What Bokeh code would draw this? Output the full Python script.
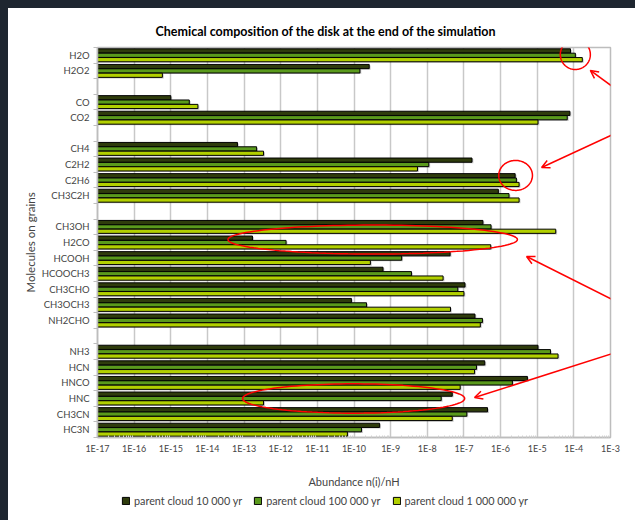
import numpy as np
from bokeh.plotting import figure
from bokeh.layouts import column
from bokeh.models import (Range1d, FixedTicker, CustomJSTickFormatter, Legend, LegendItem,
                          Arrow, OpenHead, PolyAnnotation)
from bokeh.embed import file_html
from bokeh.resources import INLINE

# ---------------- data ----------------
slots = ["H2O", "H2O2", "", "CO", "CO2", "", "CH4", "C2H2", "C2H6", "CH3C2H", "",
         "CH3OH", "H2CO", "HCOOH", "HCOOCH3", "CH3CHO", "CH3OCH3", "NH2CHO", "",
         "NH3", "HCN", "HNCO", "HNC", "CH3CN", "HC3N"]
molecules = ["H2O", "H2O2", "CO", "CO2", "CH4", "C2H2", "C2H6", "CH3C2H",
             "CH3OH", "H2CO", "HCOOH", "HCOOCH3", "CH3CHO", "CH3OCH3", "NH2CHO",
             "NH3", "HCN", "HNCO", "HNC", "CH3CN", "HC3N"]
cloud_1e4 = [8.1e-5, 2.6e-10, 1.0e-15, 7.8e-5, 6.6e-14, 1.66e-7, 2.5e-6, 8.7e-7,
             3.3e-7, 1.7e-13, 4.2e-8, 6.2e-10, 1.07e-7, 8.5e-11, 2.0e-7,
             1.05e-5, 3.7e-7, 5.4e-6, 4.8e-8, 4.4e-7, 5.0e-10]
cloud_1e5 = [1.1e-4, 1.45e-10, 3.2e-15, 6.6e-5, 2.2e-13, 1.1e-8, 2.7e-6, 1.7e-6,
             5.5e-7, 1.4e-12, 2.0e-9, 3.7e-9, 6.8e-8, 2.2e-10, 3.2e-7,
             2.3e-5, 2.2e-7, 2.1e-6, 2.4e-8, 1.2e-7, 1.6e-10]
cloud_1e6 = [1.7e-4, 5.9e-16, 5.5e-15, 1.05e-5, 3.4e-13, 5.4e-9, 3.2e-6, 3.2e-6,
             3.2e-5, 5.4e-7, 2.8e-10, 2.7e-8, 1.0e-7, 4.3e-8, 2.8e-7,
             3.7e-5, 1.95e-7, 7.9e-8, 3.4e-13, 4.8e-8, 6.6e-11]
series_labels = ["parent cloud 10 000 yr", "parent cloud 100 000 yr", "parent cloud 1 000 000 yr"]
series_colors = ["#2f3c0c", "#5a9a1c", "#b2d000"]
decades = list(range(-17, -2))

# red hand-drawn annotations (data units: log10 x, slot index y)
ellipses = [  # (log10 cx, cy, log-decades rx, ry)
    (-3.96, -0.05, 0.41, 0.96),
    (-5.59, 7.70, 0.46, 0.96),
    (-9.49, 11.81, 3.95, 0.93),
    (-10.01, 22.0, 3.03, 0.94),
]
arrows = [  # (log10 x_start, y_start, log10 x_end, y_end)
    (-2.35, 3.03, -3.55, 0.97),
    (-2.35, 4.44, -4.88, 7.19),
    (-2.35, 16.36, -5.29, 12.90),
    (-2.35, 18.67, -6.71, 21.94),
]

FONT = "Lato"
GRAY = "#bdbdbd"

p = figure(width=627, height=482, x_axis_type="log",
           x_range=Range1d(1e-17, 1e-3), y_range=Range1d(24.5, -0.5),
           output_backend="svg", toolbar_location=None,
           min_border_left=89, min_border_right=25, min_border_top=39, min_border_bottom=53)
p.frame_align = False
p.background_fill_color = "white"
p.border_fill_color = "white"
p.outline_line_color = GRAY
p.outline_line_width = 1.5

p.title.text = "Chemical composition of the disk at the end of the simulation"
p.title.align = "left"
p.title.offset = 58
p.title.text_font = FONT
p.title.text_font_size = "12.5px"
p.title.text_font_style = "bold"
p.title.text_color = "black"
p.title.standoff = 18

slot_index = {s: i for i, s in enumerate(slots) if s}
offsets = [-0.28, 0.0, 0.28]
for vals, col, d in zip([cloud_1e4, cloud_1e5, cloud_1e6], series_colors, offsets):
    ys = [slot_index[m] + d for m in molecules]
    p.hbar(y=[y + 0.07 for y in ys], left=1e-17, right=[v * 1.09 for v in vals], height=0.27,
           fill_color="#000000", fill_alpha=0.22, line_alpha=0)
for vals, col, d in zip([cloud_1e4, cloud_1e5, cloud_1e6], series_colors, offsets):
    ys = [slot_index[m] + d for m in molecules]
    p.hbar(y=ys, left=1e-17, right=vals, height=0.27,
           fill_color=col, line_color="black", line_width=1)

# x axis
p.xaxis.ticker = FixedTicker(ticks=[10.0 ** k for k in decades],
                             minor_ticks=[m * 10.0 ** k for k in decades[:-1] for m in range(2, 10)])
p.xaxis.formatter = CustomJSTickFormatter(code="return '1E' + Math.round(Math.log10(tick));")
p.xaxis.axis_label = "Abundance n(i)/nH"
p.xaxis.axis_label_text_font = FONT
p.xaxis.axis_label_text_font_size = "11px"
p.xaxis.axis_label_text_font_style = "normal"
p.xaxis.axis_label_standoff = 18
p.xaxis.major_label_text_font = FONT
p.xaxis.major_label_text_font_size = "9px"
p.xaxis.major_label_standoff = 5
p.xaxis.major_tick_in = 0
p.xaxis.major_tick_out = 0
p.xaxis.minor_tick_in = 2
p.xaxis.minor_tick_out = 0
p.xaxis.minor_tick_line_color = "#d0d0d0"
p.xaxis.axis_line_color = GRAY
p.xaxis.axis_line_width = 1.5

# y axis
p.yaxis.ticker = FixedTicker(ticks=[i for i, s in enumerate(slots) if s],
                             minor_ticks=[i + 0.5 for i in range(-1, len(slots))])
p.yaxis.formatter = CustomJSTickFormatter(args=dict(names=slots),
                                          code="return names[Math.round(tick)] || '';")
p.yaxis.axis_label = "Molecules on grains"
p.yaxis.axis_label_text_font = FONT
p.yaxis.axis_label_text_font_size = "11.5px"
p.yaxis.axis_label_text_font_style = "normal"
p.yaxis.axis_label_standoff = 2
p.yaxis.major_label_text_font = FONT
p.yaxis.major_label_text_font_size = "9.5px"
p.yaxis.major_label_standoff = 4
p.yaxis.major_tick_in = 0
p.yaxis.major_tick_out = 0
p.yaxis.minor_tick_in = 0
p.yaxis.minor_tick_out = 4
p.yaxis.minor_tick_line_color = GRAY
p.yaxis.axis_line_color = GRAY
p.yaxis.axis_line_width = 1.5

p.xgrid.grid_line_color = "#c8c8c8"
p.xgrid.grid_line_width = 1.5
p.ygrid.visible = False

# annotations
t = np.linspace(0, 2 * np.pi, 120)
for cx, cy, rx, ry in ellipses:
    p.add_layout(PolyAnnotation(xs=list(10.0 ** (cx + rx * np.cos(t))), ys=list(cy + ry * np.sin(t)),
                                fill_alpha=0, line_color="red", line_alpha=1, line_width=1.5))
for xs, ys, xe, ye in arrows:
    p.add_layout(Arrow(end=OpenHead(size=8, line_color="red", line_width=1.5),
                       x_start=10.0 ** xs, y_start=ys, x_end=10.0 ** xe, y_end=ye,
                       line_color="red", line_width=1.5))

# legend strip (separate small figure below the chart)
pl = figure(width=627, height=30, x_range=Range1d(0, 1), y_range=Range1d(0, 1),
            output_backend="svg", toolbar_location=None,
            x_axis_location=None, y_axis_location=None,
            min_border_left=0, min_border_right=0, min_border_top=0, min_border_bottom=0)
pl.frame_align = False
pl.outline_line_color = None
pl.background_fill_color = "white"
pl.border_fill_color = "white"
pl.xgrid.visible = False
pl.ygrid.visible = False
nan = float("nan")
leg_renderers = [pl.hbar(y=[nan], left=[nan], right=[nan], height=0.5, fill_color=c,
                         line_color="black", line_width=1) for c in series_colors]
legend = Legend(items=[LegendItem(label=l, renderers=[r]) for l, r in zip(series_labels, leg_renderers)],
                orientation="horizontal", location=(111, 11),
                label_text_font=FONT, label_text_font_size="10.8px",
                glyph_width=9, glyph_height=9, label_standoff=4, spacing=11,
                padding=2, margin=0, border_line_alpha=0, background_fill_alpha=0)
pl.add_layout(legend, "center")

layout = column(p, pl, spacing=0, styles={"background-color": "white"})

html = file_html(layout, INLINE)
html = html.replace("</head>",
                    "<style>html,body{background:#1e2630;overflow:hidden;}"
                    "body{margin:8px 0 0 8px;}</style></head>", 1)
open("out.html", "w").write(html)
